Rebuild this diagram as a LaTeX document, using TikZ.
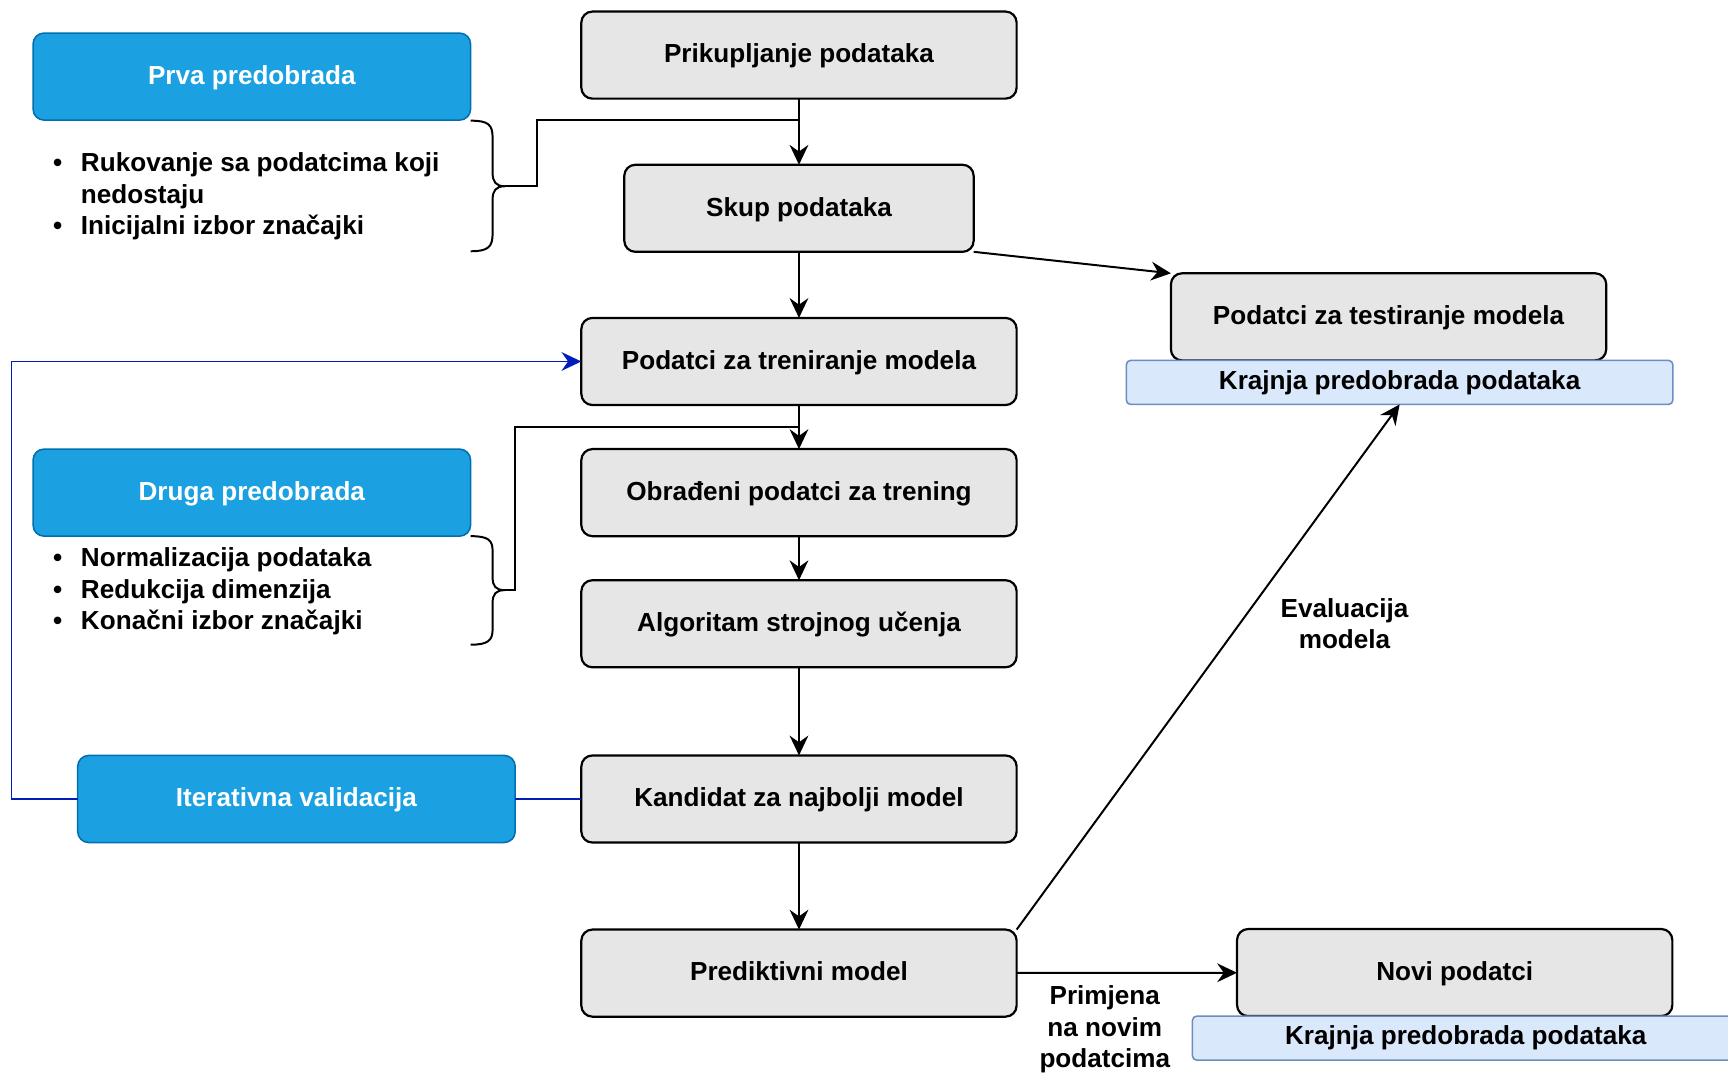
\documentclass[tikz,border=0pt]{standalone}
\usepackage{fontspec}
\setmainfont{Liberation Sans}
\usepackage{tikz}
\usetikzlibrary{positioning, calc, arrows.meta}

\definecolor{boxgray}{HTML}{E6E6E6}
\definecolor{phasefill}{HTML}{1BA1E2}
\definecolor{phaseline}{HTML}{006EAF}
\definecolor{prepfill}{HTML}{DAE8FC}
\definecolor{prepline}{HTML}{6C8EBF}
\definecolor{loopblue}{HTML}{001DBC}

\begin{document}
\begin{tikzpicture}[x=1pt, y=-1pt, font=\fontsize{23.7}{28.5}\selectfont\bfseries]
\tikzstyle{stage}=[draw, line width=2pt, fill=boxgray, rounded corners=10pt, minimum width=395pt,
minimum height=79pt, inner sep=0pt, outer sep=0pt, text depth=0pt, text height=14pt]
\tikzstyle{phase}=[draw=phaseline, line width=1.4pt, fill=phasefill, text=white, rounded corners=10pt,
minimum width=397pt, minimum height=79pt, inner sep=0pt, outer sep=0pt, text depth=0pt, text height=14pt]
\tikzstyle{finalprep}=[draw=prepline, line width=1.4pt, fill=prepfill, rounded corners=4pt,
minimum width=496pt, minimum height=40pt, inner sep=0pt, outer sep=0pt]
\tikzstyle{notes}=[inner sep=0pt, anchor=west]
\tikzstyle{caption}=[align=center, inner sep=0pt]
\tikzstyle{flow}=[line width=1.8pt, -{Stealth[length=18pt, width=17pt, inset=6pt]}]
\tikzstyle{loop}=[draw=loopblue, line width=1.6pt]
\tikzstyle{bracket}=[line width=1.8pt]

\useasboundingbox (0,0) rectangle (1568,975);
\clip (0,0) rectangle (1568,975);

% main column
\node (collect) [stage] at (725,50) {Prikupljanje podataka};
\node (dataset) [stage, minimum width=317pt, below=60pt of collect] {Skup podataka};
\node (train) [stage, below=60pt of dataset] {Podatci za treniranje modela};
\node (prepared) [stage, below=40pt of train] {Obrađeni podatci za trening};
\node (algo) [stage, below=40pt of prepared] {Algoritam strojnog učenja};
\node (cand) [stage, below=80pt of algo] {Kandidat za najbolji model};
\node (pred) [stage, below=79pt of cand] {Prediktivni model};

% right side
\node (test) [stage] at (1260,287.5) {Podatci za testiranje modela};
\node (prep1) [finalprep, below=0pt of test, xshift=10pt] {Krajnja predobrada podataka};
\node (new) [stage] at (1320,882.5) {Novi podatci};
\node (prep2) [finalprep, below=0pt of new, xshift=10pt] {Krajnja predobrada podataka};

% phases
\node (first) [phase] at (228.5,69.5) {Prva predobrada};
\node (second) [phase] at (first |- prepared) {Druga predobrada};
\node (iter) [phase, left=60pt of cand] {Iterativna validacija};

% notes
\node (list1) [notes] at (48,178.5) {\begin{tabular}{@{}l@{\hspace{17pt}}l@{}}
\textbullet & Rukovanje sa podatcima koji\\
 & nedostaju\\
\textbullet & Inicijalni izbor značajki
\end{tabular}};
\node (list2) [notes] at (48,537) {\begin{tabular}{@{}l@{\hspace{17pt}}l@{}}
\textbullet & Normalizacija podataka\\
\textbullet & Redukcija dimenzija\\
\textbullet & Konačni izbor značajki
\end{tabular}};

% braces
\coordinate (tip1) at (458,169);
\coordinate (tip2) at (458,535.5);
\draw[bracket] (427,109.5) .. controls (443,109.5) and (447,113) .. (447,125) -- (447,157)
  .. controls (447,165) and (450,169) .. (tip1) .. controls (450,169) and (447,173) .. (447,181)
  -- (447,212) .. controls (447,224) and (443,228) .. (427,228);
\draw[bracket] (427,486.5) .. controls (443,486.5) and (447,490) .. (447,500) -- (447,524)
  .. controls (447,532) and (450,535.5) .. (tip2) .. controls (450,535.5) and (447,539) .. (447,547)
  -- (447,571) .. controls (447,581) and (443,585) .. (427,585);

% connections
\coordinate (join1) at ($(collect.south)!0.33!(dataset.north)$);
\coordinate (join2) at ($(train.south)!0.5!(prepared.north)$);
\draw[flow] (collect) -- (dataset);
\draw[flow] (dataset) -- (train);
\draw[flow] (train) -- (prepared);
\draw[flow] (prepared) -- (algo);
\draw[flow] (algo) -- (cand);
\draw[flow] (cand) -- (pred);
\draw[flow] (dataset.south east) -- (test.north west);
\draw[bracket] (tip1) -- ++(29,0) |- (join1);
\draw[bracket] (tip2) -- ++(9,0) |- (join2);
\draw[flow] (pred.north east) -- (prep1.south);
\draw[flow] (pred) -- node (apply) [caption, below=11pt, pos=0.4] {Primjena\\na novim\\podatcima} (new);
\node (eval) [caption] at (1220,566) {Evaluacija\\modela};

% validation loop
\draw[loop] (cand) -- (iter);
\draw[loop, -{Stealth[length=18pt, width=17pt, inset=6pt]}] (iter.west) -- ++(-60,0) |- (train.west);

\end{tikzpicture}
\end{document}
